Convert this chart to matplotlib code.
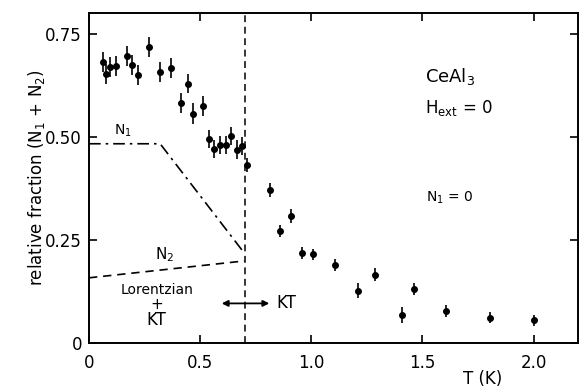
import matplotlib
matplotlib.use("Agg")
import matplotlib.pyplot as plt

plt.rcParams["font.family"] = ["DejaVu Sans"]
plt.rcParams["mathtext.default"] = "regular"

# Relative fraction (N1 + N2) versus temperature, CeAl3 in zero field
T_data = [0.062, 0.075, 0.096, 0.120, 0.169, 0.192, 0.219, 0.271, 0.319, 0.367,
          0.416, 0.446, 0.467, 0.515, 0.538, 0.563, 0.590, 0.615, 0.638, 0.664,
          0.689, 0.712,
          0.813, 0.859, 0.909, 0.960, 1.008, 1.108, 1.208, 1.288, 1.406, 1.460,
          1.605, 1.806, 2.003]
frac_data = [0.681, 0.652, 0.669, 0.672, 0.695, 0.674, 0.650, 0.717, 0.656, 0.667,
             0.582, 0.629, 0.556, 0.574, 0.494, 0.470, 0.480, 0.480, 0.502, 0.469,
             0.478, 0.432,
             0.371, 0.271, 0.308, 0.218, 0.215, 0.189, 0.127, 0.166, 0.068, 0.131,
             0.077, 0.061, 0.055]
frac_err = [0.024, 0.024, 0.024, 0.024, 0.024, 0.024, 0.024, 0.024, 0.024, 0.024,
            0.024, 0.024, 0.025, 0.024, 0.022, 0.022, 0.022, 0.022, 0.022, 0.022,
            0.022, 0.017,
            0.016, 0.014, 0.018, 0.014, 0.013, 0.014, 0.018, 0.016, 0.019, 0.015,
            0.015, 0.013, 0.014]

# Model component curves
N1_T = [0.0, 0.32, 0.70]
N1_frac = [0.483, 0.483, 0.217]
N2_T = [0.0, 0.70]
N2_frac = [0.158, 0.199]
T_transition = 0.70

x_ticks = [0, 0.5, 1.0, 1.5, 2.0]
x_ticklabels = ["0", "0.5", "1.0", "1.5", "2.0"]
y_ticks = [0, 0.25, 0.50, 0.75]
y_ticklabels = ["0", "0.25", "0.50", "0.75"]

fig = plt.figure(figsize=(5.86, 3.90), dpi=100)
ax = fig.add_axes([0.1519, 0.1205, 0.8345, 0.8462])

ax.errorbar(T_data, frac_data, yerr=frac_err, fmt="o", color="black",
            markersize=4.0, elinewidth=1.2, capsize=0)

ax.plot(N1_T, N1_frac, color="black", lw=1.2, dashes=(7, 3, 1.5, 3))
ax.plot(N2_T, N2_frac, color="black", lw=1.2, dashes=(5, 3.5))
ax.plot([T_transition, T_transition], [0, 0.8], color="black", lw=1.1,
        dashes=(4.5, 3))

ax.annotate("", xy=(0.597, 0.096), xytext=(0.811, 0.096),
            arrowprops=dict(arrowstyle="<|-|>", color="black", lw=1.3,
                            mutation_scale=9, shrinkA=0, shrinkB=0))

ax.text(0.153, 0.514, "N$_1$", fontsize=10, ha="center", va="center")
ax.text(0.342, 0.214, "N$_2$", fontsize=11, ha="center", va="center")
ax.text(0.305, 0.129, "Lorentzian", fontsize=10, ha="center", va="center")
ax.text(0.305, 0.094, "+", fontsize=11, ha="center", va="center")
ax.text(0.305, 0.056, "KT", fontsize=12, ha="center", va="center")
ax.text(0.845, 0.096, "KT", fontsize=12, ha="left", va="center")
ax.text(1.512, 0.647, "CeAl$_3$", fontsize=13, ha="left", va="center")
ax.text(1.512, 0.569, "H$_{ext}$ = 0", fontsize=12, ha="left", va="center")
ax.text(1.514, 0.352, "N$_1$ = 0", fontsize=10, ha="left", va="center")

ax.set_xlim(0, 2.2)
ax.set_ylim(0, 0.8)
ax.set_xticks(x_ticks)
ax.set_xticklabels(x_ticklabels)
ax.set_yticks(y_ticks)
ax.set_yticklabels(y_ticklabels)
ax.tick_params(axis="both", direction="in", length=6, width=1.2,
               labelsize=12, top=True, right=True)
ax.tick_params(axis="x", pad=8)
ax.tick_params(axis="y", pad=5)
for s in ax.spines.values():
    s.set_linewidth(1.4)

ax.set_ylabel("relative fraction (N$_1$ + N$_2$)", fontsize=12, labelpad=-1)
fig.text(0.824, 0.027, "T (K)", fontsize=12, ha="center", va="center")

fig.savefig("out.png", dpi=100)
